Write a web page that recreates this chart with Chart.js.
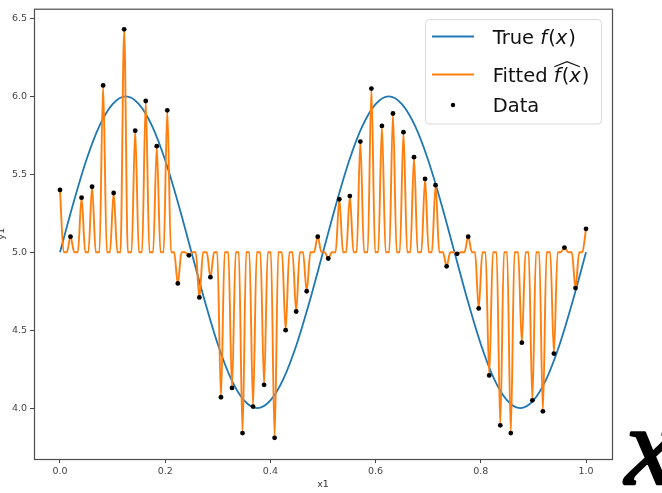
<!DOCTYPE html>
<html>
<head>
<meta charset="utf-8">
<script src="https://cdn.jsdelivr.net/npm/chart.js@4.4.1/dist/chart.umd.min.js"></script>
<style>
	html, body { margin: 0; padding: 0; background: #fff; }
	canvas { display: block; }
</style>
</head>
<body>
<canvas id="fit-chart" width="662" height="493"></canvas>
<script>
// samples (x1, y1)
var dataX = [0.000, 0.020, 0.041, 0.061, 0.082, 0.102, 0.122, 0.143, 0.163, 0.184,
	0.204, 0.224, 0.245, 0.265, 0.286, 0.306, 0.327, 0.347, 0.367, 0.388,
	0.408, 0.429, 0.449, 0.469, 0.490, 0.510, 0.531, 0.551, 0.571, 0.592,
	0.612, 0.633, 0.653, 0.673, 0.694, 0.714, 0.735, 0.755, 0.776, 0.796,
	0.816, 0.837, 0.857, 0.878, 0.898, 0.918, 0.939, 0.959, 0.980, 1.000];
var dataY = [5.40, 5.10, 5.35, 5.42, 6.07, 5.38, 6.43, 5.78, 5.97, 5.68,
	5.91, 4.80, 4.98, 4.71, 4.84, 4.07, 4.13, 3.84, 4.01, 4.15,
	3.81, 4.50, 4.62, 4.75, 5.10, 4.96, 5.34, 5.36, 5.71, 6.05,
	5.81, 5.89, 5.77, 5.61, 5.47, 5.43, 4.91, 4.99, 5.10, 4.64,
	4.21, 3.89, 3.84, 4.42, 4.05, 3.98, 4.35, 5.03, 4.77, 5.15];

// true f(x)
var trueX = [0, 0.025, 0.05, 0.075, 0.1, 0.125, 0.15, 0.175, 0.2, 0.225,
	0.25, 0.275, 0.3, 0.325, 0.35, 0.375, 0.4, 0.425, 0.45, 0.475,
	0.5, 0.525, 0.55, 0.575, 0.6, 0.625, 0.65, 0.675, 0.7, 0.725,
	0.75, 0.775, 0.8, 0.825, 0.85, 0.875, 0.9, 0.925, 0.95, 0.975, 1.0];
var trueY = [5.00, 5.31, 5.59, 5.81, 5.95, 6.00, 5.95, 5.81, 5.59, 5.31,
	5.00, 4.69, 4.41, 4.19, 4.05, 4.00, 4.05, 4.19, 4.41, 4.69,
	5.00, 5.31, 5.59, 5.81, 5.95, 6.00, 5.95, 5.81, 5.59, 5.31,
	5.00, 4.69, 4.41, 4.19, 4.05, 4.00, 4.05, 4.19, 4.41, 4.69, 5.00];

// fitted curve (foot, tip, foot)
var fitX = [0.000, 0.007,
	0.013, 0.020, 0.027,  0.034, 0.041, 0.048,  0.054, 0.061, 0.068,  0.075, 0.082, 0.089,
	0.095, 0.102, 0.109,  0.115, 0.122, 0.129,  0.136, 0.143, 0.150,  0.156, 0.163, 0.170,
	0.177, 0.184, 0.191,  0.197, 0.204, 0.211,  0.217, 0.224, 0.231,  0.238, 0.245, 0.252,
	0.258, 0.265, 0.272,  0.279, 0.286, 0.293,  0.299, 0.306, 0.313,  0.320, 0.327, 0.334,
	0.340, 0.347, 0.354,  0.360, 0.367, 0.374,  0.381, 0.388, 0.395,  0.401, 0.408, 0.415,
	0.422, 0.429, 0.436,  0.442, 0.449, 0.456,  0.462, 0.469, 0.476,  0.483, 0.490, 0.497,
	0.503, 0.510, 0.517,  0.524, 0.531, 0.538,  0.544, 0.551, 0.558,  0.564, 0.571, 0.578,
	0.585, 0.592, 0.599,  0.605, 0.612, 0.619,  0.626, 0.633, 0.640,  0.646, 0.653, 0.660,
	0.666, 0.673, 0.680,  0.687, 0.694, 0.701,  0.707, 0.714, 0.721,  0.728, 0.735, 0.742,
	0.748, 0.755, 0.762,  0.769, 0.776, 0.783,  0.789, 0.796, 0.803,  0.809, 0.816, 0.823,
	0.830, 0.837, 0.844,  0.850, 0.857, 0.864,  0.871, 0.878, 0.885,  0.891, 0.898, 0.905,
	0.911, 0.918, 0.925,  0.932, 0.939, 0.946,  0.952, 0.959, 0.966,  0.973, 0.980, 0.987,
	0.993, 1.000];
var fitY = [5.40, 5.00,
	5.00, 5.10, 5.00,  5.00, 5.35, 5.00,  5.00, 5.42, 5.00,  5.00, 6.07, 5.00,
	5.00, 5.38, 5.00,  5.00, 6.43, 5.00,  5.00, 5.78, 5.00,  5.00, 5.97, 5.00,
	5.00, 5.68, 5.00,  5.00, 5.91, 5.00,  5.00, 4.80, 5.00,  5.00, 4.98, 5.00,
	5.00, 4.71, 5.00,  5.00, 4.84, 5.00,  5.00, 4.07, 5.00,  5.00, 4.13, 5.00,
	5.00, 3.84, 5.00,  5.00, 4.01, 5.00,  5.00, 4.15, 5.00,  5.00, 3.81, 5.00,
	5.00, 4.50, 5.00,  5.00, 4.62, 5.00,  5.00, 4.75, 5.00,  5.00, 5.10, 5.00,
	5.00, 4.96, 5.00,  5.00, 5.34, 5.00,  5.00, 5.36, 5.00,  5.00, 5.71, 5.00,
	5.00, 6.05, 5.00,  5.00, 5.81, 5.00,  5.00, 5.89, 5.00,  5.00, 5.77, 5.00,
	5.00, 5.61, 5.00,  5.00, 5.47, 5.00,  5.00, 5.43, 5.00,  5.00, 4.91, 5.00,
	5.00, 4.99, 5.00,  5.00, 5.10, 5.00,  5.00, 4.64, 5.00,  5.00, 4.21, 5.00,
	5.00, 3.89, 5.00,  5.00, 3.84, 5.00,  5.00, 4.42, 5.00,  5.00, 4.05, 5.00,
	5.00, 3.98, 5.00,  5.00, 4.35, 5.00,  5.00, 5.03, 5.00,  5.00, 4.77, 5.00,
	5.00, 5.15];

var xTicks = [0.0, 0.2, 0.4, 0.6, 0.8, 1.0];
var yTicks = [4.0, 4.5, 5.0, 5.5, 6.0, 6.5];

var blue = '#1f77b4';
var orange = '#ff7f0e';

function toPoints(xs, ys){
	return xs.map(function(x, i){ return {x: x, y: ys[i]}; });
}

// box round the axes + y label + the big x
var framePlugin = {
	id: 'frame',
	afterDraw: function(chart){
		var ctx = chart.ctx, a = chart.chartArea;
		ctx.save();
		ctx.strokeStyle = '#4d4d4d';
		ctx.lineWidth = 1.2;
		ctx.strokeRect(a.left + 0.5, a.top + 0.5, a.right - a.left, a.bottom - a.top);

		ctx.fillStyle = '#333';
		ctx.font = '9.5px "DejaVu Sans"';
		ctx.translate(3.5, (a.top + a.bottom) / 2);
		ctx.rotate(-Math.PI / 2);
		ctx.textAlign = 'center';
		ctx.textBaseline = 'alphabetic';
		ctx.fillText('y1', 0, 0);
		ctx.restore();

		ctx.save();
		ctx.fillStyle = '#000';
		ctx.strokeStyle = '#000';
		ctx.lineWidth = 2.5;
		ctx.lineJoin = 'round';
		ctx.font = 'italic 112px "Liberation Serif"';
		ctx.textBaseline = 'alphabetic';
		ctx.fillText('x', 625, 484);
		ctx.strokeText('x', 625, 484);
		ctx.restore();
	}
};

// legend with the maths bits in italic
var legendPlugin = {
	id: 'mathLegend',
	afterDraw: function(chart){
		var ctx = chart.ctx;
		var left = 425.5, top = 19.5, w = 176, h = 104.5, r = 4;
		ctx.save();
		ctx.beginPath();
		ctx.roundRect(left, top, w, h, r);
		ctx.fillStyle = 'rgba(255,255,255,0.8)';
		ctx.fill();
		ctx.strokeStyle = '#d9d9d9';
		ctx.lineWidth = 1;
		ctx.stroke();

		ctx.lineWidth = 2;
		ctx.strokeStyle = blue;
		ctx.beginPath(); ctx.moveTo(432, 36.5); ctx.lineTo(474, 36.5); ctx.stroke();
		ctx.strokeStyle = orange;
		ctx.beginPath(); ctx.moveTo(432, 74.5); ctx.lineTo(474, 74.5); ctx.stroke();
		ctx.fillStyle = '#000';
		ctx.beginPath(); ctx.arc(453, 105, 2.2, 0, Math.PI * 2); ctx.fill();

		var size = 19.5;
		var normal = size + 'px "DejaVu Sans"';
		var italic = 'italic ' + size + 'px "DejaVu Sans"';
		ctx.fillStyle = '#111';
		ctx.textBaseline = 'alphabetic';

		function run(parts, x, y){
			var starts = [];
			parts.forEach(function(p){
				ctx.font = p[1] ? italic : normal;
				starts.push(x);
				ctx.fillText(p[0], x, y);
				x += ctx.measureText(p[0]).width + (p[1] ? 1 : 0);
			});
			starts.push(x);
			return starts;
		}
		run([['True ', 0], ['f', 1], ['(', 0], ['x', 1], [')', 0]], 492.7, 43.5);
		var s = run([['Fitted ', 0], ['f', 1], ['(', 0], ['x', 1], [')', 0]], 492.7, 81.5);
		// wide hat over f(x)
		var hx0 = s[1] + 0.5, hx1 = s[1] + 26;
		ctx.strokeStyle = '#111';
		ctx.lineWidth = 1.2;
		ctx.beginPath();
		ctx.moveTo(hx0, 66.7);
		ctx.lineTo((hx0 + hx1) / 2, 61.7);
		ctx.lineTo(hx1, 66.7);
		ctx.stroke();
		run([['Data', 0]], 492.7, 111.5);
		ctx.restore();
	}
};

var tickFont = { family: 'DejaVu Sans', size: 9.5 };

new Chart(document.getElementById('fit-chart'), {
	type: 'scatter',
	data: {
		datasets: [
			{
				label: 'Data',
				data: toPoints(dataX, dataY),
				pointRadius: 2.4,
				pointBackgroundColor: '#000',
				pointBorderWidth: 0,
				showLine: false,
				order: 0
			},
			{
				label: 'Fitted',
				data: toPoints(fitX, fitY),
				showLine: true,
				borderColor: orange,
				borderWidth: 1.9,
				pointRadius: 0,
				cubicInterpolationMode: 'monotone',
				order: 1
			},
			{
				label: 'True',
				data: toPoints(trueX, trueY),
				showLine: true,
				borderColor: blue,
				borderWidth: 1.8,
				pointRadius: 0,
				cubicInterpolationMode: 'monotone',
				order: 2
			}
		]
	},
	options: {
		responsive: false,
		animation: false,
		devicePixelRatio: 1,
		layout: { padding: { left: 0, top: 7, right: 50, bottom: 0 } },
		plugins: {
			legend: { display: false },
			tooltip: { enabled: false }
		},
		scales: {
			x: {
				type: 'linear',
				min: -0.0494,
				max: 1.0494,
				afterBuildTicks: function(scale){
					scale.ticks = xTicks.map(function(v){ return { value: v }; });
				},
				afterFit: function(scale){ scale.height = 34; },
				ticks: {
					callback: function(v){ return v.toFixed(1); },
					font: tickFont,
					color: '#444',
					padding: 3,
					maxRotation: 0,
					autoSkip: false
				},
				grid: { drawOnChartArea: false, drawTicks: true, tickLength: 4, tickColor: '#444' },
				border: { display: false },
				title: {
					display: true,
					text: 'x1',
					font: { family: 'DejaVu Sans', size: 9.5 },
					color: '#333',
					padding: { top: 0, bottom: 3 }
				}
			},
			y: {
				type: 'linear',
				min: 3.674,
				max: 6.562,
				afterBuildTicks: function(scale){
					scale.ticks = yTicks.map(function(v){ return { value: v }; });
				},
				afterFit: function(scale){ scale.width = 34; },
				ticks: {
					callback: function(v){ return v.toFixed(1); },
					font: tickFont,
					color: '#444',
					padding: 3,
					autoSkip: false
				},
				grid: { drawOnChartArea: false, drawTicks: true, tickLength: 4, tickColor: '#444' },
				border: { display: false }
			}
		}
	},
	plugins: [framePlugin, legendPlugin]
});
</script>
</body>
</html>
